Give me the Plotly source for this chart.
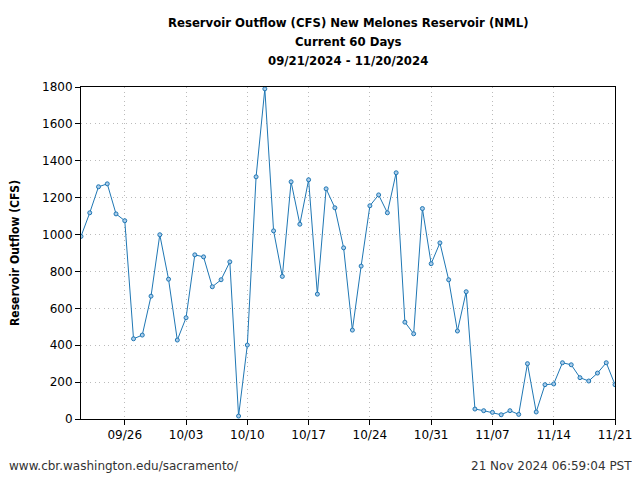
import pandas as pd
import plotly.graph_objects as go

# daily outflow, 09/21/2024 .. 11/21/2024
dates = pd.date_range("2024-09-21", "2024-11-21", freq="D")
outflow = [
    990, 1118, 1259, 1275, 1112, 1075, 435, 455, 666, 999,
    758, 428, 549, 890, 879, 717, 755, 852, 16, 401,
    1313, 1790, 1020, 773, 1286, 1056, 1297, 677, 1248, 1145,
    928, 482, 829, 1156, 1215, 1118, 1335, 525, 462, 1141,
    842, 955, 755, 477, 690, 54, 45, 36, 23, 45,
    25, 300, 38, 186, 190, 305, 294, 224, 206, 249,
    305, 186,
]
tick_dates = pd.date_range("2024-09-26", "2024-11-21", freq="7D")
tick_labels = [d.strftime("%m/%d") for d in tick_dates]

title_lines = [
    "Reservoir Outflow (CFS) New Melones Reservoir (NML)",
    "Current 60 Days",
    "09/21/2024 - 11/20/2024",
]

line_color = "#1f77b4"

# page body has an 8px margin, so work in figure coords = screen - 8
OFF = 8
L, R, T, B = 81 - OFF, 615 - OFF, 87 - OFF, 419 - OFF
W, H = R - L, B - T

fig = go.Figure()
fig.add_trace(go.Scatter(
    x=dates, y=outflow, mode="lines+markers",
    line=dict(color=line_color, width=1),
    marker=dict(size=4, color="rgba(170,205,235,1)", line=dict(color=line_color, width=1)),
    showlegend=False,
))

axis_common = dict(
    showline=True, linecolor="black", linewidth=1, mirror=True,
    ticks="outside", ticklen=5, tickcolor="black",
    showgrid=True, gridcolor="#bbbbbb", griddash="1px,3.5px", gridwidth=1,
    zeroline=False, automargin=False,
    tickfont=dict(family="DejaVu Sans", size=12, color="black"),
)

fig.update_xaxes(
    range=[dates[0], dates[-1]],
    tickvals=tick_dates, ticktext=tick_labels,
    **axis_common,
)
fig.update_yaxes(range=[0, 1800], dtick=200, **axis_common)

annotations = []
for i, line in enumerate(title_lines):
    annotations.append(dict(
        text=f"<b>{line}</b>", xref="paper", yref="paper",
        x=0.5, y=(B - (22 - OFF + 19.5 * i)) / H, xanchor="center", yanchor="middle",
        showarrow=False, font=dict(family="DejaVu Sans Condensed", size=13, color="black"),
    ))
annotations.append(dict(
    text="<b>Reservoir Outflow (CFS)</b>", xref="paper", yref="paper",
    x=(15 - OFF - L) / W, y=0.5, xanchor="center", yanchor="middle", textangle=-90,
    showarrow=False, font=dict(family="DejaVu Sans Condensed", size=12, color="black"),
))
annotations.append(dict(
    text="www.cbr.washington.edu/sacramento/", xref="paper", yref="paper",
    x=(7 - OFF - L) / W, y=(B - (466 - OFF)) / H, xanchor="left", yanchor="middle", showarrow=False,
    font=dict(family="DejaVu Sans", size=12, color="#333333"),
))
annotations.append(dict(
    text="21 Nov 2024 06:59:04 PST", xref="paper", yref="paper",
    x=(634 - OFF - L) / W, y=(B - (466 - OFF)) / H, xanchor="right", yanchor="middle", showarrow=False,
    font=dict(family="DejaVu Sans", size=12, color="#333333"),
))

fig.update_layout(
    width=640, height=480,
    margin=dict(l=L, r=640 - R, t=T, b=480 - B),
    plot_bgcolor="white", paper_bgcolor="white",
    annotations=annotations,
)

fig.write_html("out.html")
